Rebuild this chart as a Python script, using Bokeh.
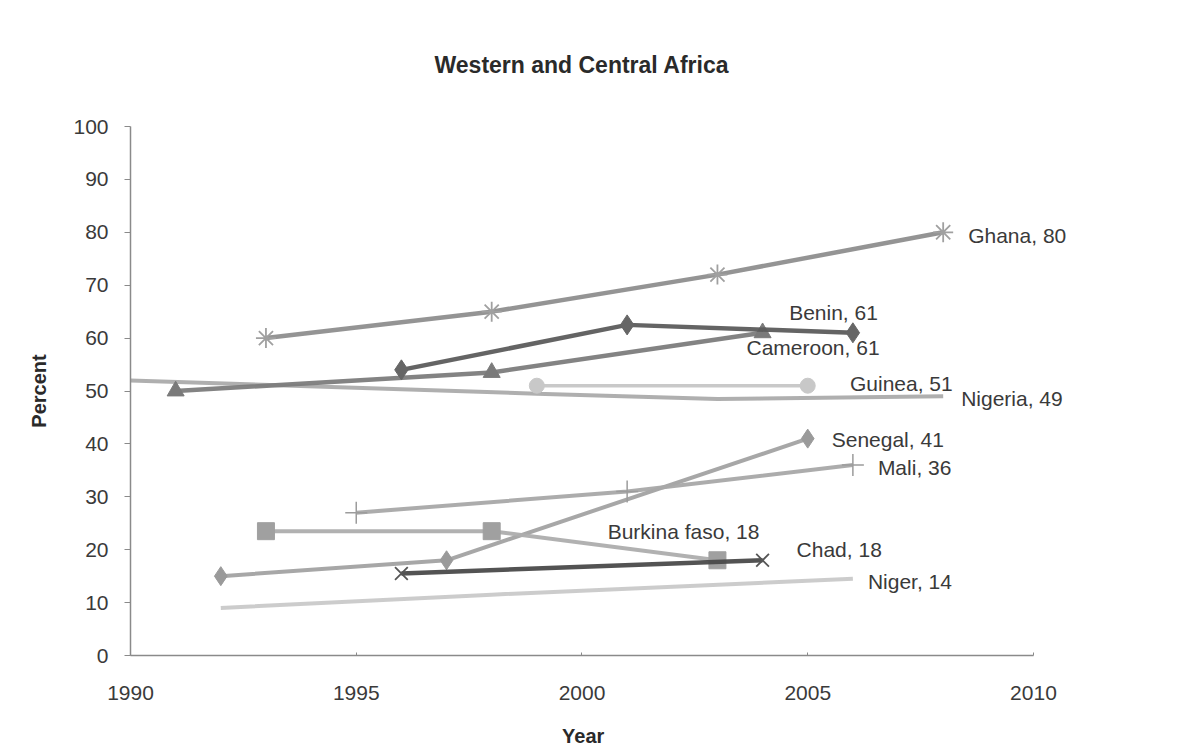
from bokeh.plotting import figure
from bokeh.models import Range1d, SingleIntervalTicker, ColumnDataSource, LabelSet
from bokeh.core.properties import value
from bokeh.embed import file_html
from bokeh.resources import INLINE

# ---- data ----
ghana_years = [1993, 1998, 2003, 2008]
ghana_vals = [60, 65, 72, 80]
benin_years = [1996, 2001, 2006]
benin_vals = [54, 62.5, 61]
cameroon_years = [1991, 1998, 2004]
cameroon_vals = [50, 53.5, 61]
guinea_years = [1999, 2005]
guinea_vals = [51, 51]
nigeria_years = [1990, 1999, 2003, 2008]
nigeria_vals = [52, 49.5, 48.5, 49]
senegal_years = [1992, 1997, 2005]
senegal_vals = [15, 18, 41]
mali_years = [1995, 2001, 2006]
mali_vals = [27, 31, 36]
burkina_years = [1993, 1998, 2003]
burkina_vals = [23.5, 23.5, 18]
chad_years = [1996, 2004]
chad_vals = [15.5, 18]
niger_years = [1992, 1998, 2006]
niger_vals = [9, 11.5, 14.5]

label_names = ["Ghana", "Benin", "Cameroon", "Guinea", "Nigeria",
               "Senegal", "Mali", "Burkina faso", "Chad", "Niger"]
label_values = [80, 61, 61, 51, 49, 41, 36, 18, 18, 14]

FONT = "Liberation Sans"
TXT = "#3a3a3a"

# the frame runs past 2010 so that the end labels are not clipped;
# the x axis itself is bounded to 1990-2010
p = figure(width=1193, height=752, output_backend="svg", toolbar_location=None,
           x_range=Range1d(1990, 2013.5), y_range=Range1d(0, 100),
           min_border_left=130, min_border_right=2,
           min_border_top=124, min_border_bottom=97,
           title="Western and Central Africa")
p.outline_line_color = None
p.background_fill_color = "white"
p.border_fill_color = "white"
p.xgrid.visible = False
p.ygrid.visible = False

p.title.align = "left"
p.title.offset = 304
p.title.text_font = FONT
p.title.text_font_size = "23px"
p.title.text_font_style = "bold"
p.title.text_color = "#2a2a2a"
p.title.standoff = 98

p.xaxis.ticker = SingleIntervalTicker(interval=5)
p.xaxis.bounds = (1990, 2010)
p.yaxis.ticker = SingleIntervalTicker(interval=10)
for ax in (p.xaxis[0], p.yaxis[0]):
    ax.axis_line_color = "#8a8a8a"
    ax.axis_line_width = 1.5
    ax.major_tick_line_color = "#8a8a8a"
    ax.minor_tick_line_color = None
    ax.major_label_text_font = FONT
    ax.major_label_text_font_size = "21px"
    ax.major_label_text_color = TXT
    ax.axis_label_text_font = FONT
    ax.axis_label_text_font_size = "20px"
    ax.axis_label_text_font_style = "bold"
    ax.axis_label_text_color = "#2a2a2a"
p.xaxis.major_tick_in = 3
p.xaxis.major_tick_out = 0
p.xaxis.major_label_standoff = 26
# trailing no-break spaces shift the centred label back under the 1990-2010 axis
p.xaxis.axis_label = "Year" + "\u00a0" * 28
p.xaxis.axis_label_standoff = 22
p.yaxis.major_tick_in = 0
p.yaxis.major_tick_out = 6
p.yaxis.major_label_standoff = 16
p.yaxis.axis_label = "Percent"
p.yaxis.axis_label_standoff = 20

# ---- series ----
def series(xs, ys, lc, lw, marker=None, mc=None, ms=12, mlw=1.5, dash="solid"):
    p.line(xs, ys, line_color=lc, line_width=lw, line_dash=dash, line_alpha=0.95)
    if marker:
        if marker in ("asterisk", "x", "cross"):
            p.scatter(xs, ys, marker=marker, size=ms, line_color=mc, line_width=mlw,
                      fill_color=None)
        else:
            p.scatter(xs, ys, marker=marker, size=ms, line_color=mc, fill_color=mc)

series(niger_years, niger_vals, "#c9c9c9", 4)
series(nigeria_years, nigeria_vals, "#ababab", 4)
series(guinea_years, guinea_vals, "#c6c6c6", 3.5, "circle", "#c8c8c8", 15)
series(ghana_years, ghana_vals, "#8e8e8e", 4.5, "asterisk", "#a0a0a0", 20, 1.8)
series(cameroon_years, cameroon_vals, "#7c7c7c", 4.5, "triangle", "#7a7a7a", 17)
series(benin_years, benin_vals, "#5c5c5c", 4.5, "diamond", "#666666", 20)
series(senegal_years, senegal_vals, "#a2a2a2", 4, "diamond", "#9a9a9a", 19)
series(mali_years, mali_vals, "#a8a8a8", 4, "cross", "#9c9c9c", 22, 1.5)
series(burkina_years, burkina_vals, "#adadad", 4, "square", "#a0a0a0", 17)
series(chad_years, chad_vals, "#4a4a4a", 4.5, "x", "#555555", 18, 1.8)

# ---- end labels, anchored at each series' last point ----
last_x = [ghana_years[-1], benin_years[-1], cameroon_years[-1], guinea_years[-1],
          nigeria_years[-1], senegal_years[-1], mali_years[-1], burkina_years[-1],
          chad_years[-1], niger_years[-1]]
last_y = [ghana_vals[-1], benin_vals[-1], cameroon_vals[-1], guinea_vals[-1],
          nigeria_vals[-1], senegal_vals[-1], mali_vals[-1], burkina_vals[-1],
          chad_vals[-1], niger_vals[-1]]
texts = [f"{n}, {v}" for n, v in zip(label_names, label_values)]
dx = [25, 25, 117, 145, 18, 24, 25, 42, 34, 15]
dy = [-3, 20, -15, 2, -2, -1, -2, 29, 11, -3]
align = ["left", "right", "right", "right", "left", "left", "left", "right", "left", "left"]
src = ColumnDataSource(dict(x=last_x, y=last_y, t=texts, dx=dx, dy=dy, a=align))
labels = LabelSet(x="x", y="y", text="t", x_offset="dx", y_offset="dy", text_align="a",
                  text_baseline="middle", text_font=value(FONT), text_font_size="21px",
                  text_color=TXT, source=src)
p.add_layout(labels)

open("out.html", "w").write(file_html(p, INLINE))
